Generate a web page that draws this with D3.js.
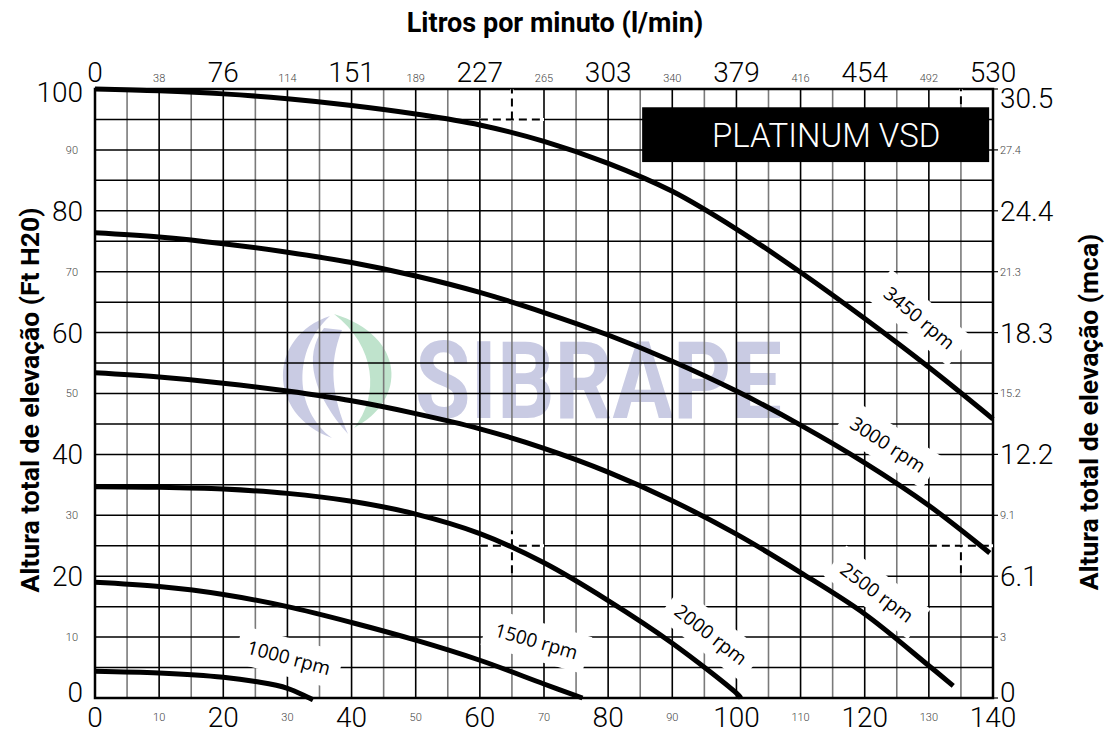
<!DOCTYPE html>
<html>
<head>
<meta charset="utf-8">
<script src="https://cdn.jsdelivr.net/npm/d3@7"></script>
<style>
  body { margin: 0; background: #fff; }
  svg { display: block; }
</style>
</head>
<body>
<div class="chart"></div>
<script>
//DATA **********************************************************************
const flowTicks = [0, 10, 20, 30, 40, 50, 60, 70, 80, 90, 100, 110, 120, 130, 140];
const litrosLabels = ["0", "38", "76", "114", "151", "189", "227", "265", "303", "340", "379", "416", "454", "492", "530"];
const headTicks = [0, 10, 20, 30, 40, 50, 60, 70, 80, 90, 100];
const mcaLabels = ["0", "3", "6.1", "9.1", "12.2", "15.2", "18.3", "21.3", "24.4", "27.4", "30.5"];

// curves: [flow (gpm), head (ft)]
const rpm3450 = [[0, 100], [10, 99.7], [20, 99.2], [30, 98.4], [40, 97.3], [50, 95.9], [60, 94.1], [70, 91.4], [80, 87.8], [90, 83.2], [100, 77.0], [110, 69.9], [120, 62.3], [130, 54.3], [140, 45.8]];
const rpm3000 = [[0, 76.4], [10, 75.7], [20, 74.6], [30, 73.2], [40, 71.5], [50, 69.3], [60, 66.6], [70, 63.3], [80, 59.6], [90, 55.3], [100, 50.4], [110, 44.8], [120, 38.6], [130, 31.6], [139.5, 23.8]];
const rpm2500 = [[0, 53.4], [10, 52.7], [20, 51.7], [30, 50.4], [40, 48.8], [50, 46.7], [60, 44.2], [70, 41.0], [80, 37.1], [90, 32.4], [100, 26.9], [110, 20.6], [120, 13.8], [130, 5.3], [133.8, 2.0]];
const rpm2000 = [[0, 34.7], [10, 34.6], [20, 34.3], [30, 33.6], [40, 32.3], [50, 30.2], [60, 27.0], [70, 22.2], [80, 16.0], [90, 9.0], [100, 0.8], [100.7, 0]];
const rpm1500 = [[0, 19.0], [10, 18.3], [20, 17.0], [30, 15.0], [40, 12.4], [50, 9.5], [60, 6.2], [70, 2.3], [76, 0]];
const rpm1000 = [[0, 4.4], [10, 4.1], [20, 3.4], [25, 2.7], [30, 1.6], [34, -0.3]];

const curveNames = ["3450 rpm", "3000 rpm", "2500 rpm", "2000 rpm", "1500 rpm", "1000 rpm"];
const curveData = [rpm3450, rpm3000, rpm2500, rpm2000, rpm1500, rpm1000];
// label anchor [flow, head, angle]
const labelAnchors = [[128.5, 62.4, 40], [123.6, 41.6, 33], [121.9, 17.3, 37], [96.0, 10.4, 38], [68.8, 9.3, 16], [30.2, 6.6, 15]];

// operating point dashes [x1, h1, x2, h2]
const dashMarks = [[60, 95, 70, 95], [65, 95, 65, 100], [60, 25, 70, 25], [65, 20.5, 65, 27.5], [130, 25, 140, 25], [135, 20.5, 135, 25], [135, 97.5, 135, 100]];

//CHART LAYOUT ***************************************************************
const width = 1108, height = 733;
const margin = { left: 95, right: 115, top: 89, bottom: 35 };

const svg = d3.select(".chart").append("svg")
  .attr("width", width)
  .attr("height", height);

svg.append("rect").attr("width", width).attr("height", height).attr("fill", "#fff");

const x = d3.scaleLinear().domain([0, 140]).range([margin.left, width - margin.right]);
const y = d3.scaleLinear().domain([0, 100]).range([height - margin.bottom, margin.top]);

const numFont = "Roboto, 'DejaVu Sans Condensed', sans-serif";
const boldFont = "Roboto, 'Open Sans', sans-serif";

//WATERMARK ******************************************************************
const wm = svg.append("g").attr("class", "watermark");
wm.append("path")
  .attr("d", "M 330 316 C 268 336, 266 414, 332 438 C 294 410, 292 350, 330 316 Z")
  .attr("fill", "#c9cbe3");
wm.append("path")
  .attr("d", "M 324 328 C 302 356, 314 396, 348 434 C 332 396, 328 364, 342 330 Z")
  .attr("fill", "#c9cbe3");
wm.append("path")
  .attr("d", "M 334 314 C 406 336, 408 400, 354 428 C 380 396, 376 346, 334 314 Z")
  .attr("fill", "#bfe3cc");
wm.append("text")
  .attr("x", 415)
  .attr("y", 418)
  .attr("font-family", "Roboto, sans-serif")
  .attr("font-weight", "bold")
  .attr("font-size", 108)
  .attr("textLength", 367)
  .attr("lengthAdjust", "spacingAndGlyphs")
  .attr("fill", "#c9cbe3")
  .text("SIBRAPE");

//GRID ***********************************************************************
const gridX = d3.range(0, 141, 5);
const gridY = d3.range(0, 101, 5);

svg.append("g").selectAll("line")
  .data(gridX).enter().append("line")
  .attr("x1", d => x(d)).attr("x2", d => x(d))
  .attr("y1", y(0)).attr("y2", y(100))
  .attr("stroke", d => d % 10 === 0 ? "#000" : "#7a7a7a")
  .attr("stroke-width", 1.6);

svg.append("g").selectAll("line")
  .data(gridY).enter().append("line")
  .attr("x1", x(0)).attr("x2", x(140))
  .attr("y1", d => y(d)).attr("y2", d => y(d))
  .attr("stroke", "#000")
  .attr("stroke-width", 1.5);

// frame
svg.append("rect")
  .attr("x", x(0)).attr("y", y(100))
  .attr("width", x(140) - x(0)).attr("height", y(0) - y(100))
  .attr("fill", "none").attr("stroke", "#000").attr("stroke-width", 2.5);

// small ticks on right
svg.append("g").selectAll("line")
  .data(headTicks).enter().append("line")
  .attr("x1", x(140)).attr("x2", x(140) + 5)
  .attr("y1", d => y(d)).attr("y2", d => y(d))
  .attr("stroke", "#000").attr("stroke-width", 1.2);

//DASHED MARKERS *************************************************************
const dm = svg.append("g");
dm.selectAll("line.bg").data(dashMarks).enter().append("line")
  .attr("class", "bg")
  .attr("x1", d => x(d[0])).attr("y1", d => y(d[1]))
  .attr("x2", d => x(d[2])).attr("y2", d => y(d[3]))
  .attr("stroke", "#fff").attr("stroke-width", 3);
dm.selectAll("line.fg").data(dashMarks).enter().append("line")
  .attr("class", "fg")
  .attr("x1", d => x(d[0])).attr("y1", d => y(d[1]))
  .attr("x2", d => x(d[2])).attr("y2", d => y(d[3]))
  .attr("stroke", "#000").attr("stroke-width", 2)
  .attr("stroke-dasharray", "8,5");

//CURVES *********************************************************************
const line = d3.line()
  .x(d => x(d[0]))
  .y(d => y(d[1]))
  .curve(d3.curveCatmullRom.alpha(0.5));

svg.append("g").selectAll("path")
  .data(curveData).enter().append("path")
  .attr("d", line)
  .attr("fill", "none")
  .attr("stroke", "#000")
  .attr("stroke-width", 5);

//CURVE LABELS ***************************************************************
const labels = svg.append("g").selectAll("g")
  .data(curveNames).enter().append("g")
  .attr("transform", (d, i) => `translate(${x(labelAnchors[i][0])},${y(labelAnchors[i][1])}) rotate(${labelAnchors[i][2]})`);

labels.append("rect").attr("fill", "#fff");
labels.append("text")
  .attr("text-anchor", "middle")
  .attr("dy", "0.35em")
  .attr("font-family", "'Open Sans', 'Noto Sans', sans-serif")
  .attr("font-size", 19)
  .attr("fill", "#000")
  .text(d => d);

labels.each(function () {
  const g = d3.select(this);
  const bb = g.select("text").node().getBBox();
  g.select("rect")
    .attr("x", bb.x - 10).attr("y", bb.y - 6)
    .attr("width", bb.width + 20).attr("height", bb.height + 12);
});

//PLATINUM BOX ***************************************************************
svg.append("rect")
  .attr("x", x(85.3)).attr("y", y(97))
  .attr("width", x(139.4) - x(85.3)).attr("height", y(88) - y(97))
  .attr("fill", "#000");
svg.append("text")
  .attr("x", x(114))
  .attr("y", (y(97) + y(88)) / 2)
  .attr("dy", "0.36em")
  .attr("text-anchor", "middle")
  .attr("font-family", numFont)
  .attr("font-weight", 300)
  .attr("font-size", 33)
  .attr("fill", "#fff")
  .text("PLATINUM VSD");

//AXIS LABELS ****************************************************************
const big = (v) => v % 20 === 0;
const smallColor = "#444";

// bottom (gpm)
svg.append("g").selectAll("text")
  .data(flowTicks).enter().append("text")
  .attr("x", d => x(d))
  .attr("y", d => big(d) ? 727 : 721)
  .attr("text-anchor", "middle")
  .attr("font-family", numFont)
  .attr("font-weight", 300)
  .attr("font-size", d => big(d) ? 28 : 11)
  .attr("fill", d => big(d) ? "#000" : smallColor)
  .text(d => d);

// top (l/min)
svg.append("g").selectAll("text")
  .data(litrosLabels).enter().append("text")
  .attr("x", (d, i) => x(flowTicks[i]))
  .attr("y", 82)
  .attr("text-anchor", "middle")
  .attr("font-family", numFont)
  .attr("font-weight", 300)
  .attr("font-size", (d, i) => big(flowTicks[i]) ? 28 : 11)
  .attr("fill", (d, i) => big(flowTicks[i]) ? "#000" : smallColor)
  .text(d => d);

// left (ft)
svg.append("g").selectAll("text")
  .data(headTicks).enter().append("text")
  .attr("x", d => big(d) ? 83 : 78)
  .attr("y", d => y(d) + (d === 100 ? 3 : 0) - (d === 0 ? 6 : 0))
  .attr("dy", "0.36em")
  .attr("text-anchor", "end")
  .attr("font-family", numFont)
  .attr("font-weight", 300)
  .attr("font-size", d => big(d) ? 28 : 11)
  .attr("fill", d => big(d) ? "#000" : smallColor)
  .text(d => d);

// right (mca)
svg.append("g").selectAll("text")
  .data(mcaLabels).enter().append("text")
  .attr("x", 1000)
  .attr("y", (d, i) => y(headTicks[i]) + (i === 10 ? 9 : 0) - (i === 0 ? 6 : 0))
  .attr("dy", "0.36em")
  .attr("font-family", numFont)
  .attr("font-weight", 300)
  .attr("font-size", (d, i) => big(headTicks[i]) ? 28 : 11)
  .attr("fill", (d, i) => big(headTicks[i]) ? "#000" : smallColor)
  .text(d => d);

//TITLES *********************************************************************
svg.append("text")
  .attr("x", 555).attr("y", 32)
  .attr("text-anchor", "middle")
  .attr("font-family", boldFont)
  .attr("font-weight", "bold")
  .attr("font-size", 27)
  .text("Litros por minuto (l/min)");

svg.append("text")
  .attr("transform", "translate(39,400) rotate(-90)")
  .attr("text-anchor", "middle")
  .attr("font-family", boldFont)
  .attr("font-weight", "bold")
  .attr("font-size", 26.5)
  .text("Altura total de elevação (Ft H20)");

svg.append("text")
  .attr("transform", "translate(1098,412) rotate(-90)")
  .attr("text-anchor", "middle")
  .attr("font-family", boldFont)
  .attr("font-weight", "bold")
  .attr("font-size", 26.5)
  .text("Altura total de elevação (mca)");
</script>
</body>
</html>
